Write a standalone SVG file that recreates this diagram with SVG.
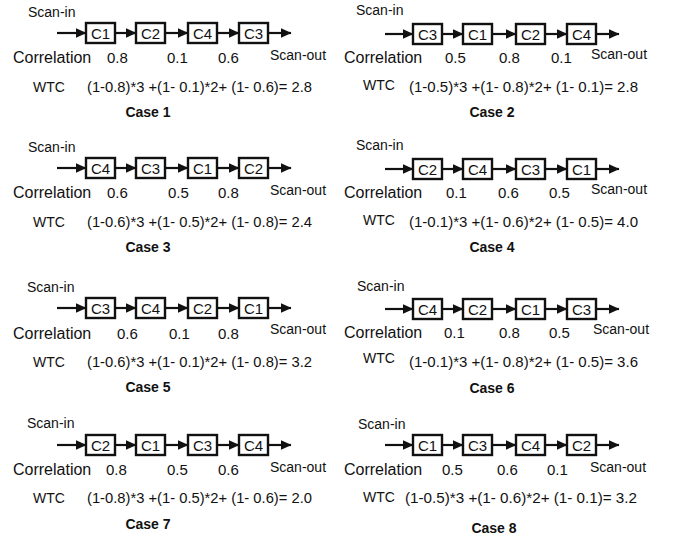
<svg xmlns="http://www.w3.org/2000/svg" width="673" height="539" viewBox="0 0 673 539">
<style>
  text { font-family: "Liberation Sans", Arial, sans-serif; fill: #111; }
  .si { font-size: 14px; }
  .so { font-size: 14px; }
  .cr { font-size: 16px; }
  .nm { font-size: 15px; }
  .wt { font-size: 14px; }
  .fm { font-size: 14.5px; }
  .cs { font-size: 14px; font-weight: bold; text-anchor: middle; }
  .bx rect { fill: #fff; stroke: #111; stroke-width: 2.4; }
  .bx text { font-size: 15px; text-anchor: middle; }
  .cn line { stroke: #111; stroke-width: 2.2; marker-end: url(#ah); }
</style>
<defs>
  <marker id="ah" markerUnits="userSpaceOnUse" markerWidth="11" markerHeight="11" viewBox="0 0 11 11" refX="10.5" refY="5.5" orient="auto">
    <path d="M0,0.5 L11,5.5 L0,10.5 Z" fill="#111"/>
  </marker>
</defs>
<rect width="673" height="539" fill="#fff"/>

<!-- Connectors -->
<g id="connectors" class="cn">
  <line x1="57" y1="33" x2="86" y2="33"/><line x1="115" y1="33" x2="136" y2="33"/><line x1="165" y1="33" x2="188" y2="33"/><line x1="217" y1="33" x2="239" y2="33"/><line x1="268" y1="33" x2="291" y2="33"/>
  <line x1="57" y1="168" x2="86" y2="168"/><line x1="115" y1="168" x2="136" y2="168"/><line x1="165" y1="168" x2="188" y2="168"/><line x1="217" y1="168" x2="239" y2="168"/><line x1="268" y1="168" x2="291" y2="168"/>
  <line x1="57" y1="308" x2="86" y2="308"/><line x1="115" y1="308" x2="136" y2="308"/><line x1="165" y1="308" x2="188" y2="308"/><line x1="217" y1="308" x2="239" y2="308"/><line x1="268" y1="308" x2="291" y2="308"/>
  <line x1="57" y1="445" x2="86" y2="445"/><line x1="115" y1="445" x2="136" y2="445"/><line x1="165" y1="445" x2="188" y2="445"/><line x1="217" y1="445" x2="239" y2="445"/><line x1="268" y1="445" x2="291" y2="445"/>
  <line x1="385" y1="34" x2="413" y2="34"/><line x1="442" y1="34" x2="463" y2="34"/><line x1="492" y1="34" x2="516" y2="34"/><line x1="545" y1="34" x2="567" y2="34"/><line x1="596" y1="34" x2="619" y2="34"/>
  <line x1="385" y1="169" x2="413" y2="169"/><line x1="442" y1="169" x2="463" y2="169"/><line x1="492" y1="169" x2="516" y2="169"/><line x1="545" y1="169" x2="567" y2="169"/><line x1="596" y1="169" x2="619" y2="169"/>
  <line x1="385" y1="309" x2="413" y2="309"/><line x1="442" y1="309" x2="463" y2="309"/><line x1="492" y1="309" x2="516" y2="309"/><line x1="545" y1="309" x2="567" y2="309"/><line x1="596" y1="309" x2="619" y2="309"/>
  <line x1="385" y1="445" x2="413" y2="445"/><line x1="442" y1="445" x2="463" y2="445"/><line x1="492" y1="445" x2="516" y2="445"/><line x1="545" y1="445" x2="567" y2="445"/><line x1="596" y1="445" x2="619" y2="445"/>
</g>

<!-- Case 1 -->
<g id="case1-c1" class="bx"><rect x="86" y="23" width="29" height="20"/><text x="100.5" y="38.5">C1</text></g>
<g id="case1-c2" class="bx"><rect x="136" y="23" width="29" height="20"/><text x="150.5" y="38.5">C2</text></g>
<g id="case1-c4" class="bx"><rect x="188" y="23" width="29" height="20"/><text x="202.5" y="38.5">C4</text></g>
<g id="case1-c3" class="bx"><rect x="239" y="23" width="29" height="20"/><text x="253.5" y="38.5">C3</text></g>
<g id="case1-labels">
  <text class="si" x="28" y="17">Scan-in</text>
  <text class="cr" x="13" y="63">Correlation</text>
  <text class="nm" x="107" y="63">0.8</text><text class="nm" x="167" y="63">0.1</text><text class="nm" x="218" y="63">0.6</text>
  <text class="so" x="270" y="60">Scan-out</text>
  <text class="wt" x="33" y="92">WTC</text>
  <text class="fm" x="87" y="92" textLength="225" lengthAdjust="spacingAndGlyphs">(1-0.8)*3 +(1- 0.1)*2+ (1- 0.6)= 2.8</text>
  <text class="cs" x="148" y="117">Case 1</text>
</g>

<!-- Case 2 -->
<g id="case2-c3" class="bx"><rect x="413" y="24" width="29" height="20"/><text x="427.5" y="39.5">C3</text></g>
<g id="case2-c1" class="bx"><rect x="463" y="24" width="29" height="20"/><text x="477.5" y="39.5">C1</text></g>
<g id="case2-c2" class="bx"><rect x="516" y="24" width="29" height="20"/><text x="530.5" y="39.5">C2</text></g>
<g id="case2-c4" class="bx"><rect x="567" y="24" width="29" height="20"/><text x="581.5" y="39.5">C4</text></g>
<g id="case2-labels">
  <text class="si" x="356" y="15">Scan-in</text>
  <text class="cr" x="344" y="63">Correlation</text>
  <text class="nm" x="445" y="63">0.5</text><text class="nm" x="499" y="63">0.8</text><text class="nm" x="551" y="63">0.1</text>
  <text class="so" x="591" y="59">Scan-out</text>
  <text class="wt" x="363" y="90">WTC</text>
  <text class="fm" x="409" y="92" textLength="229" lengthAdjust="spacingAndGlyphs">(1-0.5)*3 +(1- 0.8)*2+ (1- 0.1)= 2.8</text>
  <text class="cs" x="492" y="117">Case 2</text>
</g>

<!-- Case 3 -->
<g id="case3-c4" class="bx"><rect x="86" y="158" width="29" height="20"/><text x="100.5" y="173.5">C4</text></g>
<g id="case3-c3" class="bx"><rect x="136" y="158" width="29" height="20"/><text x="150.5" y="173.5">C3</text></g>
<g id="case3-c1" class="bx"><rect x="188" y="158" width="29" height="20"/><text x="202.5" y="173.5">C1</text></g>
<g id="case3-c2" class="bx"><rect x="239" y="158" width="29" height="20"/><text x="253.5" y="173.5">C2</text></g>
<g id="case3-labels">
  <text class="si" x="28" y="152">Scan-in</text>
  <text class="cr" x="13" y="198">Correlation</text>
  <text class="nm" x="107" y="198">0.6</text><text class="nm" x="168" y="198">0.5</text><text class="nm" x="218" y="198">0.8</text>
  <text class="so" x="270" y="195">Scan-out</text>
  <text class="wt" x="33" y="227">WTC</text>
  <text class="fm" x="87" y="227" textLength="225" lengthAdjust="spacingAndGlyphs">(1-0.6)*3 +(1- 0.5)*2+ (1- 0.8)= 2.4</text>
  <text class="cs" x="148" y="252">Case 3</text>
</g>

<!-- Case 4 -->
<g id="case4-c2" class="bx"><rect x="413" y="159" width="29" height="20"/><text x="427.5" y="174.5">C2</text></g>
<g id="case4-c4" class="bx"><rect x="463" y="159" width="29" height="20"/><text x="477.5" y="174.5">C4</text></g>
<g id="case4-c3" class="bx"><rect x="516" y="159" width="29" height="20"/><text x="530.5" y="174.5">C3</text></g>
<g id="case4-c1" class="bx"><rect x="567" y="159" width="29" height="20"/><text x="581.5" y="174.5">C1</text></g>
<g id="case4-labels">
  <text class="si" x="356" y="150">Scan-in</text>
  <text class="cr" x="344" y="198">Correlation</text>
  <text class="nm" x="446" y="198">0.1</text><text class="nm" x="498" y="198">0.6</text><text class="nm" x="549" y="198">0.5</text>
  <text class="so" x="591" y="194">Scan-out</text>
  <text class="wt" x="363" y="225">WTC</text>
  <text class="fm" x="409" y="227" textLength="229" lengthAdjust="spacingAndGlyphs">(1-0.1)*3 +(1- 0.6)*2+ (1- 0.5)= 4.0</text>
  <text class="cs" x="492" y="252">Case 4</text>
</g>

<!-- Case 5 -->
<g id="case5-c3" class="bx"><rect x="86" y="298" width="29" height="20"/><text x="100.5" y="313.5">C3</text></g>
<g id="case5-c4" class="bx"><rect x="136" y="298" width="29" height="20"/><text x="150.5" y="313.5">C4</text></g>
<g id="case5-c2" class="bx"><rect x="188" y="298" width="29" height="20"/><text x="202.5" y="313.5">C2</text></g>
<g id="case5-c1" class="bx"><rect x="239" y="298" width="29" height="20"/><text x="253.5" y="313.5">C1</text></g>
<g id="case5-labels">
  <text class="si" x="27" y="292">Scan-in</text>
  <text class="cr" x="13" y="339">Correlation</text>
  <text class="nm" x="117" y="339">0.6</text><text class="nm" x="169" y="339">0.1</text><text class="nm" x="218" y="339">0.8</text>
  <text class="so" x="270" y="334">Scan-out</text>
  <text class="wt" x="33" y="367">WTC</text>
  <text class="fm" x="87" y="367" textLength="225" lengthAdjust="spacingAndGlyphs">(1-0.6)*3 +(1- 0.1)*2+ (1- 0.8)= 3.2</text>
  <text class="cs" x="148" y="392">Case 5</text>
</g>

<!-- Case 6 -->
<g id="case6-c4" class="bx"><rect x="413" y="299" width="29" height="20"/><text x="427.5" y="314.5">C4</text></g>
<g id="case6-c2" class="bx"><rect x="463" y="299" width="29" height="20"/><text x="477.5" y="314.5">C2</text></g>
<g id="case6-c1" class="bx"><rect x="516" y="299" width="29" height="20"/><text x="530.5" y="314.5">C1</text></g>
<g id="case6-c3" class="bx"><rect x="567" y="299" width="29" height="20"/><text x="581.5" y="314.5">C3</text></g>
<g id="case6-labels">
  <text class="si" x="357" y="291">Scan-in</text>
  <text class="cr" x="344" y="338">Correlation</text>
  <text class="nm" x="444" y="338">0.1</text><text class="nm" x="499" y="338">0.8</text><text class="nm" x="549" y="338">0.5</text>
  <text class="so" x="593" y="334">Scan-out</text>
  <text class="wt" x="363" y="363">WTC</text>
  <text class="fm" x="409" y="367" textLength="229" lengthAdjust="spacingAndGlyphs">(1-0.1)*3 +(1- 0.8)*2+ (1- 0.5)= 3.6</text>
  <text class="cs" x="492" y="393">Case 6</text>
</g>

<!-- Case 7 -->
<g id="case7-c2" class="bx"><rect x="86" y="435" width="29" height="20"/><text x="100.5" y="450.5">C2</text></g>
<g id="case7-c1" class="bx"><rect x="136" y="435" width="29" height="20"/><text x="150.5" y="450.5">C1</text></g>
<g id="case7-c3" class="bx"><rect x="188" y="435" width="29" height="20"/><text x="202.5" y="450.5">C3</text></g>
<g id="case7-c4" class="bx"><rect x="239" y="435" width="29" height="20"/><text x="253.5" y="450.5">C4</text></g>
<g id="case7-labels">
  <text class="si" x="27" y="428">Scan-in</text>
  <text class="cr" x="13" y="475">Correlation</text>
  <text class="nm" x="106" y="475">0.8</text><text class="nm" x="167" y="475">0.5</text><text class="nm" x="218" y="475">0.6</text>
  <text class="so" x="270" y="472">Scan-out</text>
  <text class="wt" x="33" y="503">WTC</text>
  <text class="fm" x="87" y="503" textLength="225" lengthAdjust="spacingAndGlyphs">(1-0.8)*3 +(1- 0.5)*2+ (1- 0.6)= 2.0</text>
  <text class="cs" x="148" y="529">Case 7</text>
</g>

<!-- Case 8 -->
<g id="case8-c1" class="bx"><rect x="413" y="435" width="29" height="20"/><text x="427.5" y="450.5">C1</text></g>
<g id="case8-c3" class="bx"><rect x="463" y="435" width="29" height="20"/><text x="477.5" y="450.5">C3</text></g>
<g id="case8-c4" class="bx"><rect x="516" y="435" width="29" height="20"/><text x="530.5" y="450.5">C4</text></g>
<g id="case8-c2" class="bx"><rect x="567" y="435" width="29" height="20"/><text x="581.5" y="450.5">C2</text></g>
<g id="case8-labels">
  <text class="si" x="358" y="429">Scan-in</text>
  <text class="cr" x="344" y="475">Correlation</text>
  <text class="nm" x="442" y="475">0.5</text><text class="nm" x="497" y="475">0.6</text><text class="nm" x="547" y="475">0.1</text>
  <text class="so" x="590" y="472">Scan-out</text>
  <text class="wt" x="363" y="502">WTC</text>
  <text class="fm" x="405" y="503" textLength="232" lengthAdjust="spacingAndGlyphs">(1-0.5)*3 +(1- 0.6)*2+ (1- 0.1)= 3.2</text>
  <text class="cs" x="494" y="533">Case 8</text>
</g>
</svg>
